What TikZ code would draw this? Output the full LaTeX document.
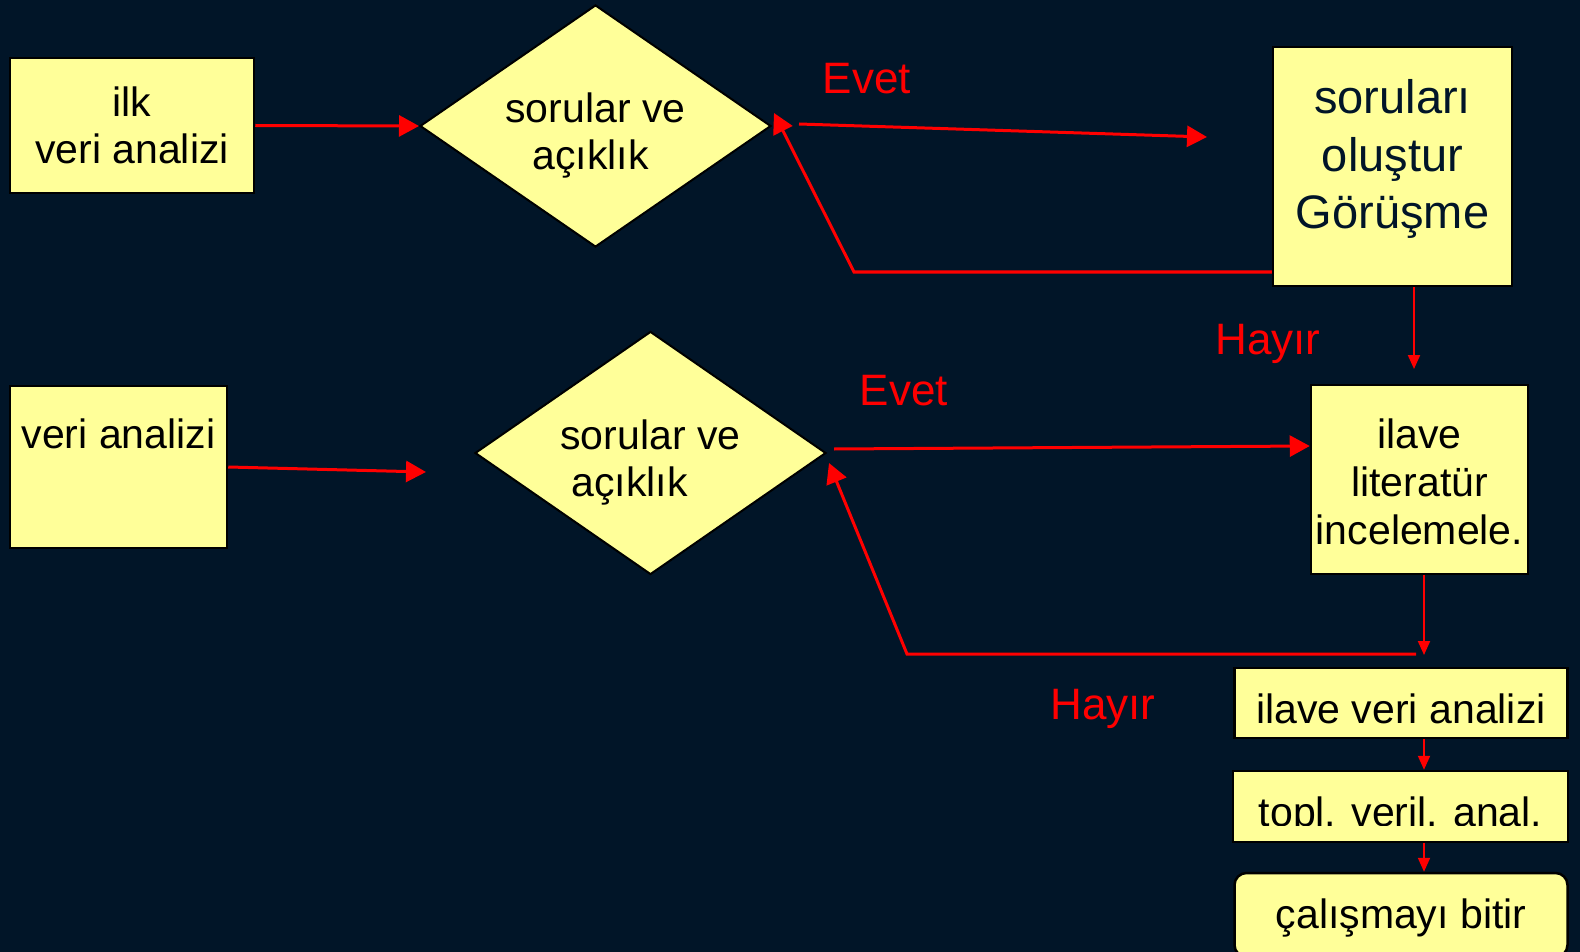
\documentclass[tikz,border=0pt]{standalone}
\usepackage{fontspec}
\setmainfont{Liberation Sans}
\usetikzlibrary{arrows.meta,shapes.geometric,calc}
\definecolor{bgc}{HTML}{011528}
\definecolor{boxy}{HTML}{FFFF99}
\definecolor{arrred}{HTML}{FF0000}
\tikzset{
  box/.style={draw=black, line width=2.5pt, fill=boxy, inner sep=0pt, align=center,
    font=\fontsize{41}{47}\selectfont, text=black},
  dec/.style={diamond, draw=black, line width=2pt, fill=boxy, inner sep=0pt, aspect=1.46,
    minimum width=351pt, minimum height=242pt, align=center,
    font=\fontsize{41}{47}\selectfont, text=black},
  lab/.style={text=arrred, inner sep=0pt, font=\fontsize{44}{50}\selectfont},
  big/.style={draw=arrred, line width=3pt, -{Triangle[length=20pt,width=21pt]}},
  small/.style={draw=arrred, line width=2pt, -{Triangle[length=14pt,width=12pt]}},
}
\begin{document}
\begin{tikzpicture}[x=1pt,y=-1pt]
\useasboundingbox (0,0) rectangle (1580,952);
\fill[bgc] (0,0) rectangle (1580,952);

% nodes
\node[box, minimum width=244pt, minimum height=135pt] (b1) at (132,125.5) {ilk\\veri analizi};
\node[dec] (d1) at (595.5,126) {\rule{0pt}{48pt}sorular ve\\açıklık\hspace*{10pt}};
\node[box, minimum width=239pt, minimum height=239pt, text=bgc,
      font=\fontsize{47}{57.5}\selectfont] (b2) at (1392.5,166.5)
      {soruları\\oluştur\\Görüşme\rule[-25pt]{0pt}{1pt}};
\node[box, minimum width=217pt, minimum height=162pt, text height=31pt, text depth=69pt]
      (b4) at (118.5,467) {veri analizi};
\node[dec, minimum height=243pt] (d2) at (650.5,453) {\rule{0pt}{48pt}sorular ve\\açıklık\hspace*{42pt}};
\node[box, minimum width=217pt, minimum height=189pt, font=\fontsize{41}{48}\selectfont]
      (b3) at (1419.5,479.5) {\rule{0pt}{34pt}ilave\\literatür\\incelemele.};
\node[box, minimum width=333pt, minimum height=70pt, text height=40pt, text depth=0pt]
      (b5) at (1401,703) {ilave veri analizi};
\node[box, minimum width=335pt, minimum height=71pt, text height=39pt, text depth=0pt]
      (b6) at (1400.5,806.5) {topl. veril. anal.};
% the reference cuts the descenders of this line off at the baseline
\fill[boxy, draw=none] ($(b6.south west)+(2.6pt,2.6pt)$) rectangle ($(b6.south east)+(-2.6pt,17.25pt)$);
\node[box, rounded corners=12pt, minimum width=333pt, minimum height=84pt,
      text height=36pt, text depth=9pt] (b7) at (1401,915) {çalışmayı bitir};

% labels
\node[lab] (l1) at (867,79) {Evet};
\node[lab] (l2) at (904,391) {Evet};
\node[lab] (l3) at (1268,344) {Hayır};
\node[lab] (l4) at (1103,709) {Hayır};

% coordinates
\coordinate (e1s) at (799,124);
\coordinate (e1e) at (1207,137);
\coordinate (r1a) at (854,272);
\coordinate (r1t) at (774,113);
\coordinate (h1e) at (1414,369);
\coordinate (a2e) at (426,472);
\coordinate (e2s) at (834,449);
\coordinate (e2e) at (1311,446);
\coordinate (r2s) at (1416,654);
\coordinate (r2a) at (907,654);
\coordinate (r2t) at (829,463);
\coordinate (v2e) at (1424,655);

% connectors
\draw[big] (b1.east) -- (d1.west);
\draw[big] (e1s) -- (e1e);
\draw[big] (b2.west |- r1a) -- (r1a) -- (r1t);
\draw[small] (b2.south -| h1e) -- (h1e);
\draw[big] (b4.east |- 0,467) -- (a2e);
\draw[big] (e2s) -- (b3.west |- e2e);
\draw[big] (r2s) -- (r2a) -- (r2t);
\draw[small] (b3.south -| v2e) -- (v2e);
\draw[small] (b5.south -| v2e) -- (b6.north -| v2e);
\draw[small] (b6.south -| v2e) -- (b7.north -| v2e);
\end{tikzpicture}
\end{document}
